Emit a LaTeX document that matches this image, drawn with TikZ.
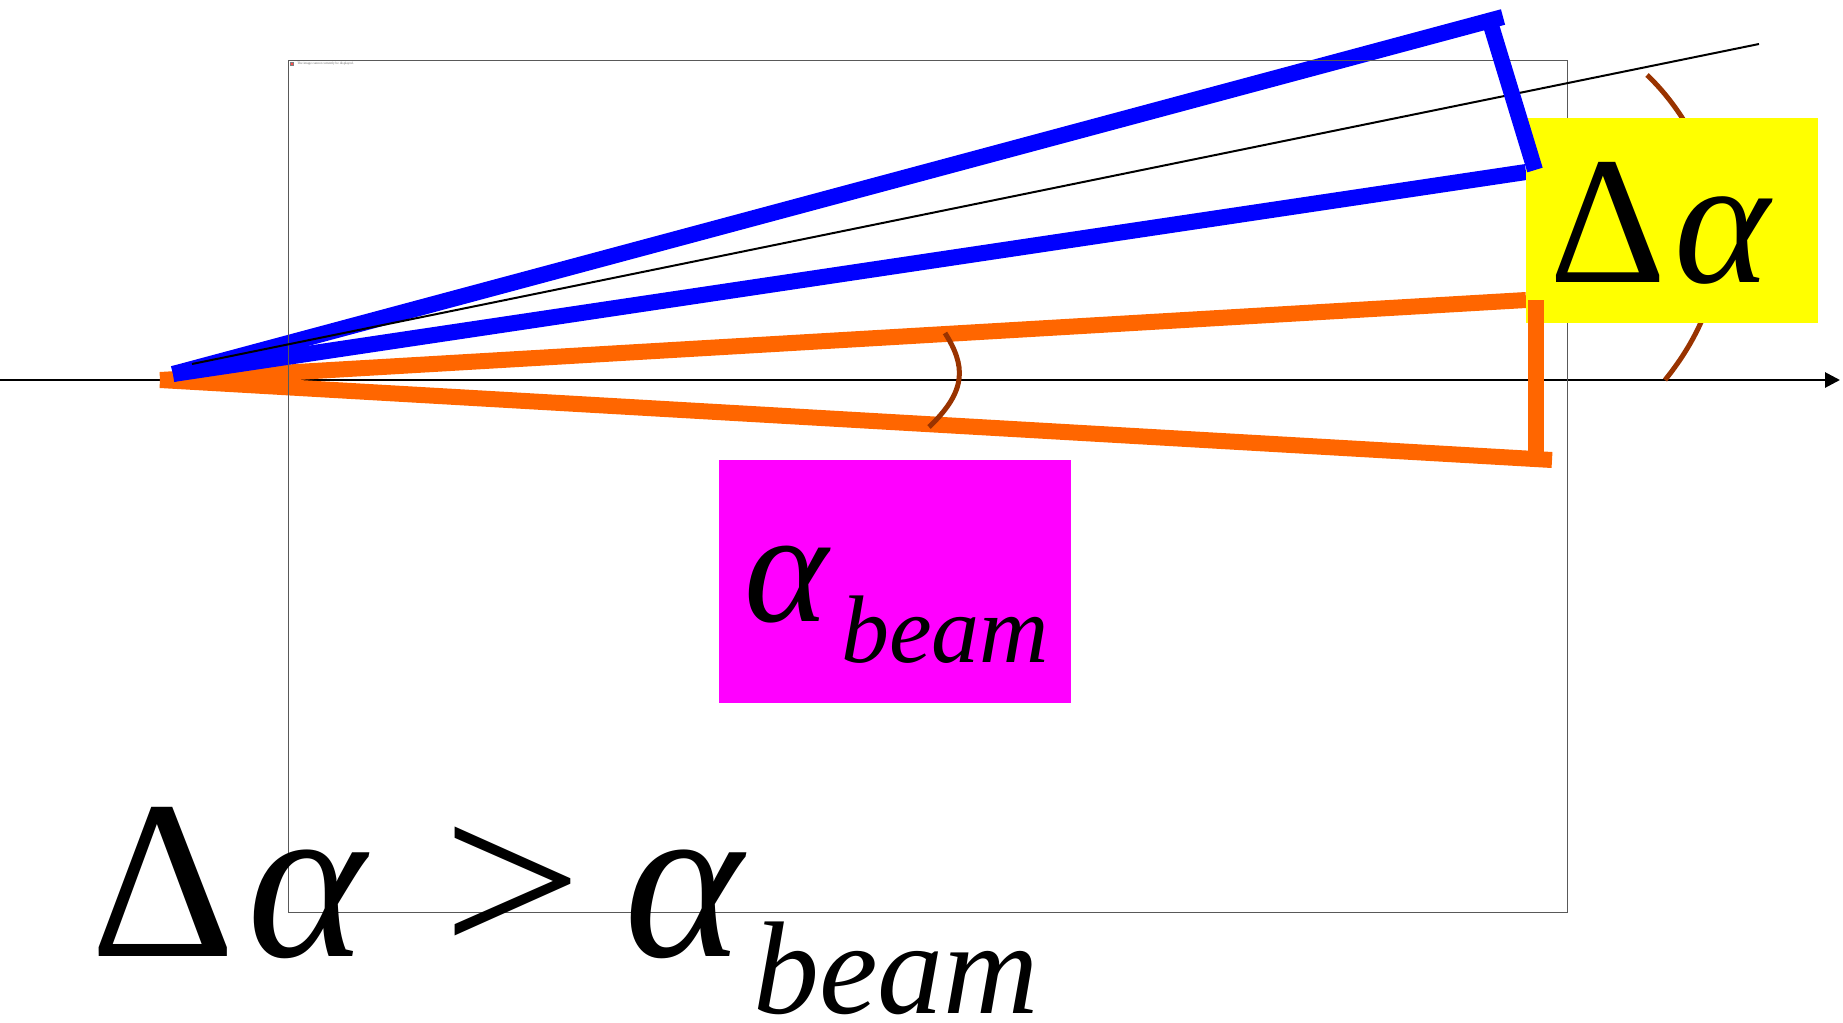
\documentclass[tikz,border=0pt]{standalone}
\usepackage{fontspec}
\setmainfont{Liberation Serif}
\usepackage{xcolor}
\definecolor{beamblue}{HTML}{0000FF}
\definecolor{beamorange}{HTML}{FF6600}
\definecolor{arcbrown}{HTML}{993300}
\definecolor{boxyellow}{HTML}{FFFF00}
\definecolor{boxmagenta}{HTML}{FF00FF}
\usetikzlibrary{arrows.meta}

\newcommand{\subbeam}[2]{\raisebox{-#2}{\fontsize{#1}{#1}\selectfont\itshape beam}}

\begin{document}
\begin{tikzpicture}[
    x=0.5pt, y=-0.5pt,
    axisline/.style={line width=1.4pt, -{Triangle[length=7.5pt, width=7.5pt]}},
    bluebeam/.style={line width=8pt, color=beamblue},
    orangebeam/.style={line width=8pt, color=beamorange},
    edgeray/.style={line width=1pt},
    anglearc/.style={line width=2.5pt, color=arcbrown},
    imgframe/.style={
        rectangle,
        draw=black!65,
        line width=0.5pt,
        inner sep=0pt,
        outer sep=0pt,
        minimum width=639.5pt,
        minimum height=426pt,
    },
    yellowbox/.style={
        rectangle,
        fill=boxyellow,
        inner sep=0pt,
        minimum width=146pt,
        minimum height=102.5pt,
    },
    magentabox/.style={
        rectangle,
        fill=boxmagenta,
        inner sep=0pt,
        minimum width=176pt,
        minimum height=121.5pt,
    },
    mathlabel/.style={inner sep=0pt, anchor=base west},
]

\useasboundingbox (0,0) rectangle (1843,1023);

\coordinate (axisstart) at (0,380);
\coordinate (axisend) at (1840,380);
\coordinate (orangeapex) at (160,380);
\coordinate (orangetop) at (1526,300);
\coordinate (orangebot) at (1552,460);
\coordinate (blueapex) at (173,374);
\coordinate (bluetop) at (1503,17);
\coordinate (bluebot) at (1526,172);
\coordinate (raystart) at (192,364);
\coordinate (rayend) at (1759,44);

\draw[axisline] (axisstart) -- (axisend);

\draw[orangebeam] (orangeapex) -- (orangetop);
\draw[orangebeam] (orangeapex) -- (orangebot);
\draw[bluebeam] (blueapex) -- (bluetop);
\draw[bluebeam] (blueapex) -- (bluebot);

\node[imgframe] (frame) at (927.5,486) {};
\node[draw=black!50, line width=0.2pt, fill=red!70, inner sep=0pt, minimum size=1.5pt] (brokenicon) at (292,64) {};
\node[anchor=west, inner sep=0pt, text=black!60, font=\fontsize{1.7}{2}\selectfont] (placeholder) at (297,64)
    {The image cannot currently be displayed.};

\draw[edgeray] (raystart) -- (rayend);

\draw[anglearc] (945,333) .. controls (965,365) and (968,390) .. (929,427);
\draw[anglearc] (1647,75) .. controls (1700,125) and (1770,250) .. (1665,380);

\node[yellowbox] (dabox) at (1672,220.5) {};
\node[mathlabel, font=\fontsize{91}{91}\selectfont] (dalabel) at (1549,282)
    {Δ\kern4pt\textit{α}};

\draw[bluebeam] (1490,22) -- (1535,170);
\draw[orangebeam] (1536,300) -- (1536,455);

\node[magentabox] (beambox) at (895,581.5) {};
\node[mathlabel, font=\fontsize{80}{80}\selectfont] (beamlabel) at (744,621)
    {\textit{α}\kern5pt\subbeam{48pt}{20.5pt}};

\node[mathlabel, font=\fontsize{113}{113}\selectfont] (relation) at (90,956)
    {Δ\kern6pt\textit{α}\kern36pt\scalebox{1.1}[1]{>}\kern21pt\textit{α}\kern3.3pt\subbeam{66pt}{28.5pt}};

\end{tikzpicture}
\end{document}
